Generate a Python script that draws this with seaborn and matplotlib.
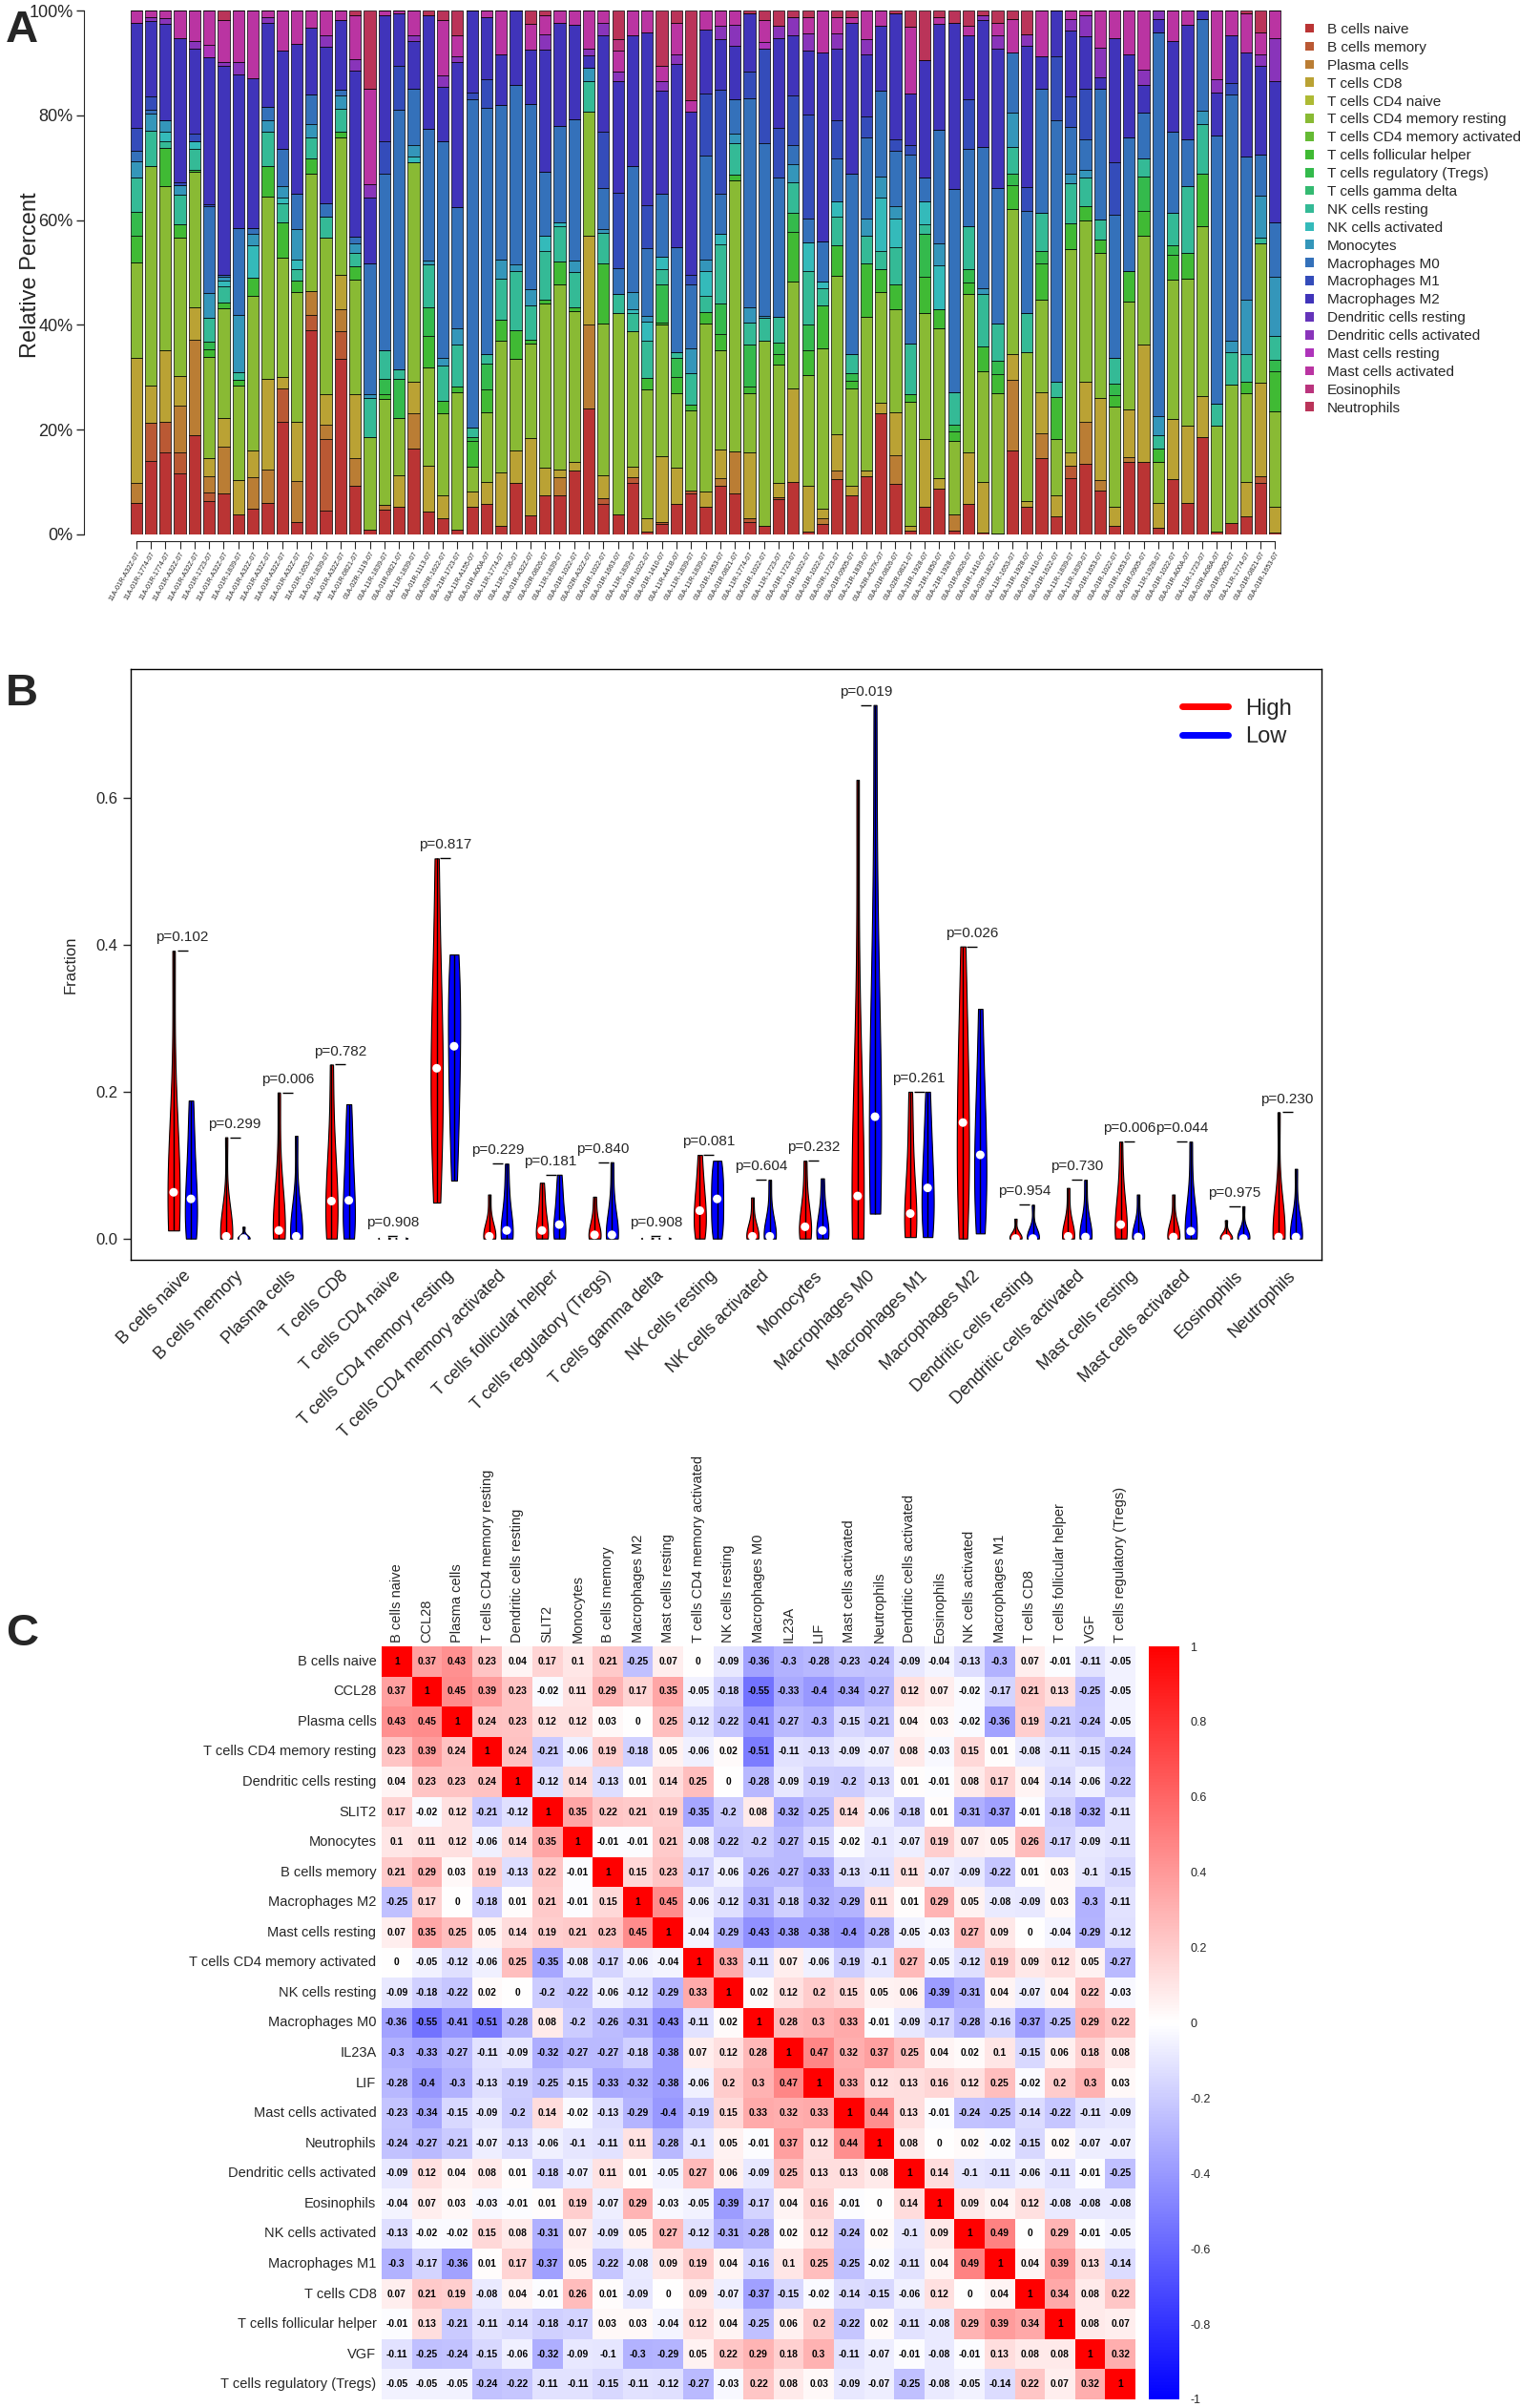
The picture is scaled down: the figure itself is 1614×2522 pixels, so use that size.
import numpy as np
import pandas as pd
import matplotlib
matplotlib.use("Agg")
import matplotlib.pyplot as plt
import matplotlib.colors as mcolors
from matplotlib.lines import Line2D
from matplotlib.patches import Patch
from matplotlib.ticker import FuncFormatter
import seaborn as sns

sns.set_style("white")
plt.rcParams["font.family"] = ["Liberation Sans", "DejaVu Sans"]

# ---------------- Panel A data: CIBERSORT fractions per sample (%)
cell_types = ["B cells naive", "B cells memory", "Plasma cells", "T cells CD8",
              "T cells CD4 naive", "T cells CD4 memory resting",
              "T cells CD4 memory activated", "T cells follicular helper",
              "T cells regulatory (Tregs)", "T cells gamma delta",
              "NK cells resting", "NK cells activated", "Monocytes",
              "Macrophages M0", "Macrophages M1", "Macrophages M2",
              "Dendritic cells resting", "Dendritic cells activated",
              "Mast cells resting", "Mast cells activated", "Eosinophils",
              "Neutrophils"]
cell_keys = ["Bn", "Bm", "Pl", "T8", "T4n", "T4r", "T4a", "Tfh", "Treg", "Tgd",
             "NKr", "NKa", "Mo", "M0", "M1", "M2", "DCr", "DCa", "MaR", "MaA",
             "Eo", "Ne"]

sample_mix = [
    dict(Bn=6, Pl=3.7, T8=23.6, T4r=18, Tfh=5, Treg=4.5, NKr=6.5, Mo=3, M0=2, M1=4.3, M2=19.8, MaA=2.3),
    dict(Bn=13.9, Bm=7.2, T8=7, T4r=41.6, NKr=6.8, Mo=3.2, M0=0.7, M1=2.5, M2=14.4, DCa=0.7, MaA=1.2),
    dict(Bn=15.7, Bm=5.8, T8=13.7, T4r=31.3, Tfh=7.2, NKr=1.4, NKa=1.8, Mo=2.2, M2=18.3, DCa=1.2, MaA=1.4),
    dict(Bn=11.7, Bm=4, Pl=9, T8=5.5, T4r=26.5, Tfh=2.5, NKr=5.8, Mo=1.8, M1=0.4, M2=27.7, MaA=5.2),
    dict(Bn=18.9, Pl=18.3, T8=6.1, T4r=25.9, Tfh=0.4, NKr=4, NKa=1.4, M1=1.4, M2=16.2, DCa=1.4, MaA=5.9),
    dict(Bn=6.3, Bm=1.8, Pl=3.1, T8=3.4, T4r=19.4, Tfh=1.4, Treg=1.4, NKr=4.7, Mo=4.7, M0=16.5, M1=0.5, M2=28, MaR=2.5, MaA=6.5),
    dict(Bn=7.8, Pl=9, T8=5.4, T4r=20.9, Tfh=1.1, NKr=3.2, NKa=1.1, Mo=0.7, M0=0.4, M2=39.9, DCa=0.7, MaA=7.9, Ne=1.9),
    dict(Bn=3.8, T8=6.5, T4r=18, Tfh=1.1, NKr=1.4, Mo=10.8, M0=16.5, M2=29.1, DCa=2.5, MaA=9.7),
    dict(Bn=4.9, Pl=6.1, T8=5, T4r=29.5, Tfh=3.6, NKa=6.1, Mo=2.2, M0=1.1, M2=28.6, MaA=13),
    dict(Bn=6, Pl=6.5, T8=17.3, T4r=34.9, Tfh=5.8, NKr=6.5, Mo=2.2, M0=2.5, M2=16.2, DCa=1.1, MaA=1.2),
    dict(Bn=21.6, Bm=6.3, T8=2.2, T4r=22.7, Tfh=6.8, NKr=3.6, NKa=1.1, Mo=2.2, M0=7.2, M2=18.7, MaA=7.7),
    dict(Bn=2.4, Pl=7.9, T8=11.2, T4r=24.8, Tfh=2.2, NKr=2.2, NKa=1.8, Mo=5.9, M0=6.7, M2=28.8, MaA=6.3),
    dict(Bn=39.1, Bm=2.9, Pl=4.5, T4r=22.5, Tfh=2.9, NKr=4, Mo=2.5, M0=5.8, M2=12.8, MaA=3.2),
    dict(Bn=4.5, Bm=13.8, Pl=2.7, T8=5.8, T4r=29.9, NKr=4, M0=2.5, M2=29.9, DCa=2.2, MaA=4.8),
    dict(Bn=33.5, Bm=5.3, Pl=4.3, T8=6.5, T4r=26.3, Tfh=1.1, NKr=4.3, Mo=2.5, M0=1.1, M2=13.3, MaA=1.9),
    dict(Bn=9.2, Pl=5.4, T8=12.2, T4r=21.9, Tfh=2.5, NKr=2.5, Mo=1.8, M0=1.4, M2=31.7, DCa=2.2, MaA=8.3, Ne=0.9),
    dict(Bn=0.9, T4r=17.6, NKr=7.6, Mo=0.7, M0=24.8, M2=12.6, DCa=2.5, MaA=18.3, Ne=14.9),
    dict(Bn=4.7, Pl=0.9, T4r=20.3, Tfh=0.9, Treg=2.9, NKr=5.4, M0=33.8, M1=6.1, M2=24.1, MaA=0.9),
    dict(Bn=5.3, T8=6, T4r=10.9, Treg=7.6, NKr=1.8, M0=49.6, M1=8.3, M2=10.1, MaA=0.5),
    dict(Bn=16.4, Pl=6.8, T8=6, T4r=41.9, NKa=1.1, Mo=2.2, M0=10.8, M2=9, DCa=1.1, MaA=4.8),
    dict(Bn=4.3, T8=8.8, T4r=18.7, Tfh=6.1, Treg=5.4, NKr=8.3, Mo=0.7, M0=25.2, M2=21.6, Ne=0.9),
    dict(Bn=3.1, T8=4.3, T4r=15.8, Tfh=2.2, NKr=6.8, Mo=1.4, M0=41.4, M2=10.4, DCa=2.2, MaA=10.4, Ne=1.9),
    dict(Bn=0.9, T4r=26.3, Tfh=1.1, NKr=7.9, Mo=3.2, M0=23.2, M2=27.6, DCa=1.1, MaA=4, Ne=4.8),
    dict(Bn=5.3, T8=2.9, T4r=4.7, Tfh=5, Treg=0.7, NKr=1.8, M0=62.6, M1=1.4, M2=15.6),
    dict(Bn=5.8, T8=4.2, T4r=13.3, Tfh=4.3, Treg=5, NKr=1.8, M0=47.1, M1=5.4, M2=11.9, MaA=1.2),
    dict(Bn=1.7, T8=10.1, T4r=25.2, Tfh=4, NKr=7.9, Mo=3.6, M0=29.5, M2=9.7, MaA=8.4),
    dict(Bn=9.9, T8=6.1, T4r=17.6, Tfh=5.4, NKr=11.2, Mo=1.4, M0=34.2, M2=14.2),
    dict(Bn=3.8, T8=15.3, T4r=18.7, Tfh=0.7, NKr=6.8, Mo=3.2, M0=36.7, M2=10.8, MaA=5, Ne=2.7),
    dict(Bn=7.4, T8=5.4, T4r=31.3, Tfh=0.7, NKr=9.4, NKa=2.9, M0=12.2, M2=23.4, DCa=2.9, MaA=3.6, Ne=0.9),
    dict(Bn=7.4, Pl=3.6, T8=1.4, T4r=35.3, Tfh=4.3, NKr=6.8, NKa=0.7, M0=18.3, M2=19.8, MaA=2.3),
    dict(Bn=12.2, T8=1.7, T4r=28.8, Tfh=0.7, NKr=6.8, Mo=2.2, M0=27, M2=18, MaA=2.7),
    dict(Bn=24.1, Pl=16, T8=16.9, T4r=23.7, NKr=5.8, Mo=2.5, M2=2.5, DCa=1.2, MaA=7.3),
    dict(Bn=5.8, Bm=1.2, T8=4.3, T4r=28.9, Tfh=11.5, NKr=5.8, Mo=0.7, M0=7.9, M1=10.8, M2=18.3, DCa=2.5, MaA=2.3),
    dict(Bn=3.8, T4r=38.5, NKr=3.6, M0=5, M1=14.4, M2=21.2, DCa=1.8, MaA=4, Eo=2.2, Ne=5.5),
    dict(Bn=9.9, Bm=1.1, T8=1.9, T4r=25.8, NKr=3.6, NKa=0.7, Mo=3.2, M0=24.1, M2=24.8, MaA=4.8),
    dict(Bn=0.6, T8=2.5, T4r=24.5, Tfh=2.2, NKr=7.2, NKa=3.6, Mo=1.1, M0=12.9, M1=8.3, M2=33, MaA=4.1),
    dict(Bn=2, Bm=0.4, T8=12.6, T4r=25.2, Tfh=0.4, Treg=7.2, NKr=2.9, NKa=2.5, M0=11.9, M2=19.8, DCa=1.8, MaA=2.9, Ne=10.6),
    dict(Bn=5.8, T8=6.9, T4r=14.2, Tfh=3.2, Treg=3.6, NKr=1.1, M0=20.1, M2=34.9, DCa=1.8, MaA=6.1, Ne=2.3),
    dict(Bn=7.8, Bm=0.6, T4r=15.3, Tfh=1.1, NKr=6.1, Mo=4.7, M0=12.2, M1=1.8, M2=31.3, MaA=2.2, Ne=17.1),
    dict(Bn=5.3, T8=2.9, T4r=32.1, Tfh=2.2, NKr=3.2, NKa=4.7, Mo=2.2, M0=19.8, M1=11.9, M2=12.2, MaA=3.7),
    dict(Bn=9.2, Pl=1.6, T8=5.5, T4r=18.8, Tfh=3.2, Treg=5.8, NKr=11.3, NKa=2, M0=7.6, M1=19.8, M2=9.7, DCa=2.5, MaA=3),
    dict(Bn=7.9, Pl=7.9, T4r=51.8, Tfh=1.2, NKr=6, Mo=1.7, M0=6.7, M2=10.2, DCa=4, MaA=2.7),
    dict(Bn=2.4, Bm=0.7, T8=12.6, T4r=11.2, Tfh=1.4, Treg=7.9, NKr=4.3, Mo=2.9, M0=39.9, M1=5, M2=11.2, Ne=0.5),
    dict(Bn=1.7, T4r=35.3, NKr=4.3, Mo=0.4, M0=33.1, M1=18, MaR=1.3, MaA=4.1, Ne=1.9),
    dict(Bn=6.7, Bm=0.5, T8=2.6, T4r=22.6, Tfh=2, Treg=2.2, NKr=5, M0=26.6, M1=9.4, M2=17.3, DCa=2.2, Ne=3),
    dict(Bn=10.1, T8=17.8, T4r=20.5, Tfh=9.4, Treg=3.6, NKr=5.8, Mo=3.6, M0=3.6, M1=9.4, M2=11.5, DCa=3.6, Ne=1.2),
    dict(Bn=0.6, T8=8.6, T4r=21.2, Tfh=4.7, Treg=5, NKr=10.1, NKa=5.4, M0=4.7, M1=19.8, M2=12.2, DCa=3.2, MaA=3.2, Ne=1.2),
    dict(Bn=2, Pl=1.1, T8=1.8, T4r=30.6, Tfh=8.3, NKr=3.2, NKa=1.4, M0=7.6, M2=36, MaA=8.1),
    dict(Bn=10.6, Pl=1.6, T8=7, T4r=30.2, Tfh=5.8, NKr=5.4, NKa=2.9, M0=8.3, M1=7.2, M2=13.7, DCa=2.9, MaA=3.2, Ne=1.2),
    dict(Bn=7.4, T8=1.8, T4r=18.6, Tfh=1.6, Treg=1.4, NKr=3.6, M0=34.5, M2=28.8, MaA=1.1, Ne=1.2),
    dict(Bn=11.2, T8=1, T4r=29.4, Tfh=10.1, NKr=5.4, Mo=3.2, M0=15.5, M1=4, M2=11.9, DCa=2.9, MaA=5.5),
    dict(Bn=23.2, T8=1.9, T4r=21.1, Tfh=4.3, NKr=3.6, NKa=10.1, Mo=4, M0=16.5, M2=12.2, MaA=3),
    dict(Bn=9.6, Pl=5.5, T8=8.3, T4r=19.6, Tfh=4.7, NKr=7.2, NKa=5.4, Mo=2.3, M0=10.6, M1=2.2, M2=24.1, Ne=0.5),
    dict(Bn=0.7, T8=0.9, T4r=23.7, Tfh=1.4, NKr=9.7, M0=36, M1=1.8, M2=9.7, MaA=12.9, Ne=3),
    dict(Bn=5.3, T8=12.9, T4r=24.1, Tfh=6.8, Treg=8.3, NKr=1.8, NKa=4.3, M0=4.7, M2=22.3, Ne=9.5),
    dict(Bn=8.8, T8=1.9, T4r=28.6, Tfh=3.6, NKa=8.3, Mo=4.3, M0=21.6, M2=20.1, MaA=1.4, Ne=1.2),
    dict(Bn=0.7, Pl=3.1, T4r=14, Tfh=1.8, Treg=1.4, NKr=6.1, M0=38.8, M2=31.7, Ne=2.3),
    dict(Bn=5.8, T8=9.9, T4r=30.2, Tfh=2.2, Treg=2.5, NKr=8.3, M0=14.7, M1=9.4, M2=12.2, MaA=1.8, Ne=3),
    dict(Bn=0.4, T8=9.6, T4r=21.1, Tfh=4.7, NKr=10.1, Mo=1.1, M0=27, M2=24.2, DCa=0.9, Ne=0.9),
    dict(Bn=0.2, T4r=26.8, Tfh=3.6, Treg=2.5, NKr=7.2, M0=25.9, M2=26.6, DCa=2.5, MaA=2.5, Ne=2.3),
    dict(Bn=16, Pl=13.5, T8=4.9, T4r=27.7, Tfh=4.7, Treg=2.2, NKr=5, Mo=6.5, M0=11.5, MaA=6.5, Ne=1.6),
    dict(Bn=5.3, T8=1.1, T4r=28.4, NKr=7.6, M0=19.4, M1=4.7, M2=27, DCa=2.2, Ne=4.5),
    dict(Bn=14.6, Pl=4.7, T8=7.9, T4r=17.6, Tfh=6.8, Treg=2.5, NKr=7.2, M0=23.7, M2=6.1, MaA=8.8),
    dict(Bn=3.5, T8=4, T4r=10.8, Tfh=7.9, NKr=2.9, M0=50, M1=12.2, M2=8.8),
    dict(Bn=10.8, Bm=2.4, T8=2.5, T4r=38.8, Tfh=5, NKr=7.6, Mo=1.8, M0=9, M1=5.8, M2=12.6, DCa=2.2, MaA=1.6),
    dict(Bn=13.5, Pl=8.1, T8=7.6, T4r=30.7, Tfh=2.9, NKr=5.4, Mo=1.4, M0=5.8, M1=9.7, M2=10.1, DCa=4, MaA=0.9),
    dict(Bn=8.5, Pl=2.2, T8=16, T4r=28.3, Tfh=2.5, NKr=4, M0=25.5, M2=2.2, DCa=5.8, MaA=7.2),
    dict(Bn=1.7, T8=3.6, T4r=19.1, Tfh=2.2, Treg=2.2, NKr=5, M0=27.3, M1=10.1, M2=23.7, MaA=5.2),
    dict(Bn=13.9, Pl=0.9, T8=9.1, T4r=20.5, Tfh=5.8, M0=25.5, M2=15.8, MaA=8.4),
    dict(Bn=13.9, T8=22.3, T4r=20.9, Tfh=4.7, Treg=6.5, NKr=3.6, M0=8.6, M2=5.4, DCa=2.9, MaA=11.3),
    dict(Bn=1.3, T8=4.7, T4r=7.9, Tfh=2.5, NKr=2.5, Mo=3.6, M0=73.4, M2=2.5, DCa=1.6),
    dict(Bn=10.6, T8=11.5, T4r=26.6, Tfh=4.7, Treg=1.8, NKr=6.1, M0=15.5, M2=17.3, MaA=5.9),
    dict(Bn=6, T8=14.7, T4r=28.1, Tfh=5, NKr=12.6, M0=9, M2=21.9, MaA=2.7),
    dict(Bn=18.6, T8=7.9, T4r=32.4, Tfh=10.1, NKr=9.4, Mo=2.5, M0=17.6, M2=1.6),
    dict(Bn=0.6, T4r=20.1, NKr=4.3, M0=51.1, M2=8.3, DCa=2.5, MaA=13.1),
    dict(Bn=2.2, T4r=26.5, NKr=6.1, Mo=2.2, M0=47.1, M1=2.2, M2=9, MaA=4.8),
    dict(Bn=3.5, T8=6.5, T4r=16.9, Tfh=2.2, NKr=5.4, Mo=10.4, M0=27.3, M2=19.8, MaA=7.6, Ne=0.5),
    dict(Bn=9.9, Bm=1.3, T8=17.8, T4r=26.6, NKr=1.1, Mo=7.9, M0=7.9, M2=16.9, DCa=2.2, MaA=4.3, Ne=4.1),
    dict(Bn=0.4, T8=4.8, T4r=18.3, Tfh=7.6, Treg=2.2, NKr=4.7, Mo=11.2, M0=10.4, M2=27, DCa=8.3, MaA=5.2),
]

sample_codes = [
    "01R-A32Z", "01R-1774", "01R-1774", "01R-A32Z", "01R-A32Z", "01R-1723", "01R-A32Z", "01R-1839",
    "01R-A32Z", "01R-A32Z", "01R-A32Z", "01R-A32Z", "01R-1653", "01R-1839", "01R-A32Z", "01R-0821",
    "02R-1119", "11R-1839", "01R-0821", "11R-1839", "01R-1113", "02R-1622", "21R-1723", "11R-A155",
    "01R-A00A", "11R-1774", "11R-1736", "01R-A32Z", "02R-0826", "11R-1839", "01R-1022", "02R-A32Z",
    "01R-1022", "01R-1663", "11R-1839", "01R-1022", "01R-1410", "11R-A41B", "11R-1839", "11R-1839",
    "01R-1653", "01R-0821", "11R-1774", "01R-1022", "11R-1723", "01R-1723", "01R-1022", "01R-1022",
    "02R-1723", "01R-0905", "21R-1839", "42R-A37K", "01R-0826", "02R-0821", "31R-1928", "21R-1850",
    "21R-1928", "01R-0826", "01R-1410", "02R-1822", "11R-1653", "31R-1928", "01R-1410", "01R-1622",
    "11R-1839", "11R-1839", "01R-1653", "01R-1022", "01R-1653", "01R-0905", "11R-1928", "01R-1022",
    "01R-A00A", "11R-1723", "02R-A08A", "01R-0905", "11R-1774", "01R-0821", "01R-1653",
]
sample_types = ["11A"] * 16 + ["01A"] * 63

# ---------------- Panel B data: quantiles (min, p10, p25, median, p75, p90, max)
vio_cells = cell_types
vio_high = [
    [0.011, 0.02, 0.035, 0.063, 0.10, 0.16, 0.392],
    [0, 0, 0, 0.003, 0.012, 0.04, 0.138],
    [0, 0, 0.003, 0.011, 0.035, 0.08, 0.199],
    [0, 0.01, 0.025, 0.051, 0.085, 0.13, 0.237],
    [0, 0, 0, 0.0005, 0.001, 0.002, 0.003],
    [0.049, 0.14, 0.18, 0.232, 0.29, 0.36, 0.518],
    [0, 0, 0, 0.003, 0.01, 0.025, 0.06],
    [0, 0, 0.004, 0.011, 0.03, 0.05, 0.076],
    [0, 0, 0, 0.005, 0.015, 0.03, 0.057],
    [0, 0, 0, 0.0005, 0.001, 0.002, 0.003],
    [0, 0.01, 0.02, 0.038, 0.055, 0.075, 0.114],
    [0, 0, 0, 0.003, 0.01, 0.025, 0.056],
    [0, 0, 0.006, 0.016, 0.03, 0.055, 0.106],
    [0, 0.01, 0.025, 0.058, 0.12, 0.25, 0.625],
    [0.002, 0.01, 0.018, 0.034, 0.07, 0.13, 0.2],
    [0, 0.05, 0.1, 0.158, 0.22, 0.28, 0.398],
    [0, 0, 0, 0, 0.002, 0.008, 0.027],
    [0, 0, 0, 0.003, 0.01, 0.03, 0.069],
    [0, 0, 0.005, 0.019, 0.04, 0.07, 0.132],
    [0, 0, 0, 0.002, 0.01, 0.025, 0.06],
    [0, 0, 0, 0, 0.002, 0.008, 0.025],
    [0, 0, 0, 0.002, 0.015, 0.05, 0.172],
]
vio_low = [
    [0, 0.01, 0.03, 0.054, 0.085, 0.13, 0.188],
    [0, 0, 0, 0, 0, 0.004, 0.016],
    [0, 0, 0, 0.003, 0.02, 0.05, 0.14],
    [0, 0.01, 0.025, 0.052, 0.09, 0.13, 0.183],
    [0, 0, 0, 0.0005, 0.001, 0.002, 0.003],
    [0.079, 0.16, 0.21, 0.262, 0.31, 0.35, 0.387],
    [0, 0, 0.002, 0.011, 0.03, 0.06, 0.102],
    [0, 0.002, 0.008, 0.019, 0.04, 0.06, 0.087],
    [0, 0, 0, 0.005, 0.02, 0.05, 0.104],
    [0, 0, 0, 0.0005, 0.001, 0.002, 0.003],
    [0, 0.015, 0.03, 0.054, 0.07, 0.09, 0.106],
    [0, 0, 0, 0.003, 0.015, 0.035, 0.08],
    [0, 0, 0.004, 0.011, 0.025, 0.045, 0.082],
    [0.034, 0.07, 0.11, 0.166, 0.26, 0.4, 0.727],
    [0.002, 0.02, 0.04, 0.069, 0.1, 0.14, 0.2],
    [0.007, 0.04, 0.075, 0.114, 0.16, 0.21, 0.313],
    [0, 0, 0, 0, 0.003, 0.012, 0.046],
    [0, 0, 0, 0.002, 0.012, 0.035, 0.08],
    [0, 0, 0, 0.002, 0.01, 0.025, 0.06],
    [0, 0, 0.002, 0.01, 0.03, 0.06, 0.132],
    [0, 0, 0, 0, 0.003, 0.012, 0.044],
    [0, 0, 0, 0.002, 0.012, 0.035, 0.095],
]
p_values = ["0.102", "0.299", "0.006", "0.782", "0.908", "0.817", "0.229", "0.181",
            "0.840", "0.908", "0.081", "0.604", "0.232", "0.019", "0.261", "0.026",
            "0.954", "0.730", "0.006", "0.044", "0.975", "0.230"]

# ---------------- Panel C data: correlation matrix
heat_labels = ["B cells naive", "CCL28", "Plasma cells", "T cells CD4 memory resting",
               "Dendritic cells resting", "SLIT2", "Monocytes", "B cells memory",
               "Macrophages M2", "Mast cells resting", "T cells CD4 memory activated",
               "NK cells resting", "Macrophages M0", "IL23A", "LIF", "Mast cells activated",
               "Neutrophils", "Dendritic cells activated", "Eosinophils", "NK cells activated",
               "Macrophages M1", "T cells CD8", "T cells follicular helper", "VGF",
               "T cells regulatory (Tregs)"]
corr_rows = [
    [1, 0.37, 0.43, 0.23, 0.04, 0.17, 0.1, 0.21, -0.25, 0.07, 0, -0.09, -0.36, -0.3, -0.28, -0.23, -0.24, -0.09, -0.04, -0.13, -0.3, 0.07, -0.01, -0.11, -0.05],
    [0.37, 1, 0.45, 0.39, 0.23, -0.02, 0.11, 0.29, 0.17, 0.35, -0.05, -0.18, -0.55, -0.33, -0.4, -0.34, -0.27, 0.12, 0.07, -0.02, -0.17, 0.21, 0.13, -0.25, -0.05],
    [0.43, 0.45, 1, 0.24, 0.23, 0.12, 0.12, 0.03, 0, 0.25, -0.12, -0.22, -0.41, -0.27, -0.3, -0.15, -0.21, 0.04, 0.03, -0.02, -0.36, 0.19, -0.21, -0.24, -0.05],
    [0.23, 0.39, 0.24, 1, 0.24, -0.21, -0.06, 0.19, -0.18, 0.05, -0.06, 0.02, -0.51, -0.11, -0.13, -0.09, -0.07, 0.08, -0.03, 0.15, 0.01, -0.08, -0.11, -0.15, -0.24],
    [0.04, 0.23, 0.23, 0.24, 1, -0.12, 0.14, -0.13, 0.01, 0.14, 0.25, 0, -0.28, -0.09, -0.19, -0.2, -0.13, 0.01, -0.01, 0.08, 0.17, 0.04, -0.14, -0.06, -0.22],
    [0.17, -0.02, 0.12, -0.21, -0.12, 1, 0.35, 0.22, 0.21, 0.19, -0.35, -0.2, 0.08, -0.32, -0.25, 0.14, -0.06, -0.18, 0.01, -0.31, -0.37, -0.01, -0.18, -0.32, -0.11],
    [0.1, 0.11, 0.12, -0.06, 0.14, 0.35, 1, -0.01, -0.01, 0.21, -0.08, -0.22, -0.2, -0.27, -0.15, -0.02, -0.1, -0.07, 0.19, 0.07, 0.05, 0.26, -0.17, -0.09, -0.11],
    [0.21, 0.29, 0.03, 0.19, -0.13, 0.22, -0.01, 1, 0.15, 0.23, -0.17, -0.06, -0.26, -0.27, -0.33, -0.13, -0.11, 0.11, -0.07, -0.09, -0.22, 0.01, 0.03, -0.1, -0.15],
    [-0.25, 0.17, 0, -0.18, 0.01, 0.21, -0.01, 0.15, 1, 0.45, -0.06, -0.12, -0.31, -0.18, -0.32, -0.29, 0.11, 0.01, 0.29, 0.05, -0.08, -0.09, 0.03, -0.3, -0.11],
    [0.07, 0.35, 0.25, 0.05, 0.14, 0.19, 0.21, 0.23, 0.45, 1, -0.04, -0.29, -0.43, -0.38, -0.38, -0.4, -0.28, -0.05, -0.03, 0.27, 0.09, 0, -0.04, -0.29, -0.12],
    [0, -0.05, -0.12, -0.06, 0.25, -0.35, -0.08, -0.17, -0.06, -0.04, 1, 0.33, -0.11, 0.07, -0.06, -0.19, -0.1, 0.27, -0.05, -0.12, 0.19, 0.09, 0.12, 0.05, -0.27],
    [-0.09, -0.18, -0.22, 0.02, 0, -0.2, -0.22, -0.06, -0.12, -0.29, 0.33, 1, 0.02, 0.12, 0.2, 0.15, 0.05, 0.06, -0.39, -0.31, 0.04, -0.07, 0.04, 0.22, -0.03],
    [-0.36, -0.55, -0.41, -0.51, -0.28, 0.08, -0.2, -0.26, -0.31, -0.43, -0.11, 0.02, 1, 0.28, 0.3, 0.33, -0.01, -0.09, -0.17, -0.28, -0.16, -0.37, -0.25, 0.29, 0.22],
    [-0.3, -0.33, -0.27, -0.11, -0.09, -0.32, -0.27, -0.27, -0.18, -0.38, 0.07, 0.12, 0.28, 1, 0.47, 0.32, 0.37, 0.25, 0.04, 0.02, 0.1, -0.15, 0.06, 0.18, 0.08],
    [-0.28, -0.4, -0.3, -0.13, -0.19, -0.25, -0.15, -0.33, -0.32, -0.38, -0.06, 0.2, 0.3, 0.47, 1, 0.33, 0.12, 0.13, 0.16, 0.12, 0.25, -0.02, 0.2, 0.3, 0.03],
    [-0.23, -0.34, -0.15, -0.09, -0.2, 0.14, -0.02, -0.13, -0.29, -0.4, -0.19, 0.15, 0.33, 0.32, 0.33, 1, 0.44, 0.13, -0.01, -0.24, -0.25, -0.14, -0.22, -0.11, -0.09],
    [-0.24, -0.27, -0.21, -0.07, -0.13, -0.06, -0.1, -0.11, 0.11, -0.28, -0.1, 0.05, -0.01, 0.37, 0.12, 0.44, 1, 0.08, 0, 0.02, -0.02, -0.15, 0.02, -0.07, -0.07],
    [-0.09, 0.12, 0.04, 0.08, 0.01, -0.18, -0.07, 0.11, 0.01, -0.05, 0.27, 0.06, -0.09, 0.25, 0.13, 0.13, 0.08, 1, 0.14, -0.1, -0.11, -0.06, -0.11, -0.01, -0.25],
    [-0.04, 0.07, 0.03, -0.03, -0.01, 0.01, 0.19, -0.07, 0.29, -0.03, -0.05, -0.39, -0.17, 0.04, 0.16, -0.01, 0, 0.14, 1, 0.09, 0.04, 0.12, -0.08, -0.08, -0.08],
    [-0.13, -0.02, -0.02, 0.15, 0.08, -0.31, 0.07, -0.09, 0.05, 0.27, -0.12, -0.31, -0.28, 0.02, 0.12, -0.24, 0.02, -0.1, 0.09, 1, 0.49, 0, 0.29, -0.01, -0.05],
    [-0.3, -0.17, -0.36, 0.01, 0.17, -0.37, 0.05, -0.22, -0.08, 0.09, 0.19, 0.04, -0.16, 0.1, 0.25, -0.25, -0.02, -0.11, 0.04, 0.49, 1, 0.04, 0.39, 0.13, -0.14],
    [0.07, 0.21, 0.19, -0.08, 0.04, -0.01, 0.26, 0.01, -0.09, 0, 0.09, -0.07, -0.37, -0.15, -0.02, -0.14, -0.15, -0.06, 0.12, 0, 0.04, 1, 0.34, 0.08, 0.22],
    [-0.01, 0.13, -0.21, -0.11, -0.14, -0.18, -0.17, 0.03, 0.03, -0.04, 0.12, 0.04, -0.25, 0.06, 0.2, -0.22, 0.02, -0.11, -0.08, 0.29, 0.39, 0.34, 1, 0.08, 0.07],
    [-0.11, -0.25, -0.24, -0.15, -0.06, -0.32, -0.09, -0.1, -0.3, -0.29, 0.05, 0.22, 0.29, 0.18, 0.3, -0.11, -0.07, -0.01, -0.08, -0.01, 0.13, 0.08, 0.08, 1, 0.32],
    [-0.05, -0.05, -0.05, -0.24, -0.22, -0.11, -0.11, -0.15, -0.11, -0.12, -0.27, -0.03, 0.22, 0.08, 0.03, -0.09, -0.07, -0.25, -0.08, -0.05, -0.14, 0.22, 0.07, 0.32, 1],
]

# ---------------- figure
W, H = 1614, 2522
fig = plt.figure(figsize=(W / 100, H / 100), dpi=100)


def box(x0, y0, x1, y1):
    # pixel box (top-left origin) -> figure fraction rect
    return [x0 / W, 1 - y1 / H, (x1 - x0) / W, (y1 - y0) / H]


# ===== Panel A
cell_colors = [mcolors.hsv_to_rgb((i / 22, 0.72, 0.73)) for i in range(22)]
mix = pd.DataFrame(sample_mix).reindex(columns=cell_keys).fillna(0)
mix = mix.div(mix.sum(axis=1), axis=0) * 100
sample_labels = [f"{t}-{c}-07" for t, c in zip(sample_types, sample_codes)]

axA = fig.add_axes(box(135, 11, 1344, 560))
# spine placement first: moving a spine resets the tick objects
for s in ["top", "right"]:
    axA.spines[s].set_visible(False)
axA.spines["left"].set_position(("outward", 34))
axA.spines["bottom"].set_position(("outward", 5))

xpos = np.arange(len(mix))
bottom = np.zeros(len(mix))
for key, col in zip(cell_keys, cell_colors):
    axA.bar(xpos, mix[key].values, bottom=bottom, width=0.8, color=col,
            edgecolor="black", linewidth=0.5)
    bottom += mix[key].values
axA.set_xlim(-0.5, len(mix) - 0.5)
axA.set_ylim(0, 100)
axA.spines["bottom"].set_bounds(0, len(mix) - 1)
axA.set_yticks(range(0, 101, 20))
axA.set_yticklabels([f"{v}%" for v in range(0, 101, 20)], fontsize=13)
axA.set_xticks(xpos)
axA.set_xticklabels(sample_labels, fontsize=5.2, rotation=60, ha="right",
                    va="top", rotation_mode="anchor")
axA.tick_params(axis="y", length=6, width=1, pad=2, left=True)
axA.tick_params(axis="x", length=6, width=0.8, pad=1, bottom=True)
axA.set_ylabel("Relative Percent", fontsize=17)
axA.yaxis.set_label_coords(-0.076, 0.495)
axA.grid(False)

handles = [Patch(facecolor=c, edgecolor="none", label=n) for c, n in zip(cell_colors, cell_types)]
fig.legend(handles=handles, loc="upper left", bbox_to_anchor=(1368 / W, 1 - 24 / H),
           frameon=False, fontsize=11, handlelength=0.6, handleheight=0.6,
           labelspacing=0.32, handletextpad=0.9, borderaxespad=0, borderpad=0)

# ===== Panel B
rows = []
for cell, hi, lo in zip(vio_cells, vio_high, vio_low):
    rows += [(cell, "High", v) for v in hi]
    rows += [(cell, "Low", v) for v in lo]
vdf = pd.DataFrame(rows, columns=["cell", "group", "fraction"])

axB = fig.add_axes(box(137, 701, 1385, 1320))
vw = 0.66
sns.violinplot(data=vdf, x="cell", y="fraction", hue="group", order=vio_cells,
               hue_order=["High", "Low"], palette={"High": "red", "Low": "blue"},
               cut=0, inner=None, density_norm="width", width=vw, gap=0.3,
               linewidth=0.8, linecolor="black", bw_adjust=1.0, saturation=1,
               legend=False, ax=axB)
off = vw / 4
for i, (hi, lo, p) in enumerate(zip(vio_high, vio_low, p_values)):
    for pos, q in ((i - off, hi), (i + off, lo)):
        axB.vlines(pos, q[0], q[-1], color="black", lw=1, zorder=4)
        axB.scatter(pos, q[3], s=42, color="white", edgecolor="none", zorder=5)
    top = max(hi[-1], lo[-1])
    axB.hlines(top, i - 0.1, i + 0.1, color="black", lw=1)
    axB.text(i, top + 0.009, f"p={p}", ha="center", va="bottom", fontsize=11)
axB.set_xlim(-0.98, 21.65)
axB.set_ylim(-0.029, 0.776)
axB.set_yticks([0, 0.2, 0.4, 0.6])
axB.set_yticklabels(["0.0", "0.2", "0.4", "0.6"], fontsize=12)
axB.set_xticks(range(len(vio_cells)))
axB.set_xticklabels(vio_cells, rotation=45, ha="right", rotation_mode="anchor", fontsize=13)
axB.tick_params(axis="y", length=6, width=1, left=True)
axB.tick_params(axis="x", length=0, pad=6)
axB.set_xlabel("")
axB.set_ylabel("Fraction", fontsize=12, labelpad=14)
for s in axB.spines.values():
    s.set_visible(True)
    s.set_color("black")
    s.set_linewidth(1)
axB.legend(handles=[Line2D([0], [0], color="red", lw=5, label="High"),
                    Line2D([0], [0], color="blue", lw=5, label="Low")],
           loc="upper right", frameon=False, fontsize=17, handlelength=2.0,
           borderaxespad=0.9, labelspacing=0.3)

# ===== Panel C
axC = fig.add_axes(box(400, 1725, 1190, 2514))
cax = fig.add_axes(box(1204, 1725, 1236, 2514))
cmat = pd.DataFrame(corr_rows, index=heat_labels, columns=heat_labels)
annot = np.array([[f"{v:g}" for v in row] for row in corr_rows])
cmap = mcolors.LinearSegmentedColormap.from_list("bwr_pure", ["#0000FF", "#FFFFFF", "#FF0000"])
sns.heatmap(cmat, ax=axC, cbar_ax=cax, cmap=cmap, vmin=-1, vmax=1, annot=annot, fmt="",
            annot_kws=dict(size=7.4, weight="bold", color="black"))
axC.tick_params(axis="x", top=True, labeltop=True, bottom=False, labelbottom=False,
                length=0, pad=3)
axC.tick_params(axis="y", length=0, pad=4)
axC.set_xticklabels(heat_labels, rotation=90, fontsize=10.5)
axC.set_yticklabels(heat_labels, rotation=0, fontsize=10.5)
axC.set_xlabel("")
axC.set_ylabel("")
cax.set_yticks(np.round(np.linspace(-1, 1, 11), 1))
cax.yaxis.set_major_formatter(FuncFormatter(lambda v, _: f"{v:g}" if abs(v) > 1e-9 else "0"))
cax.tick_params(length=0, labelsize=9, pad=8)
cbar = axC.collections[0].colorbar
if cbar is not None:
    cbar.outline.set_visible(False)

# panel letters
fig.text(6 / W, 1 - 10 / H, "A", fontsize=34, weight="bold", va="top")
fig.text(6 / W, 1 - 705 / H, "B", fontsize=34, weight="bold", va="top")
fig.text(6 / W, 1 - 1690 / H, "C", fontsize=34, weight="bold", va="top")

fig.savefig("out.png", dpi=100)
